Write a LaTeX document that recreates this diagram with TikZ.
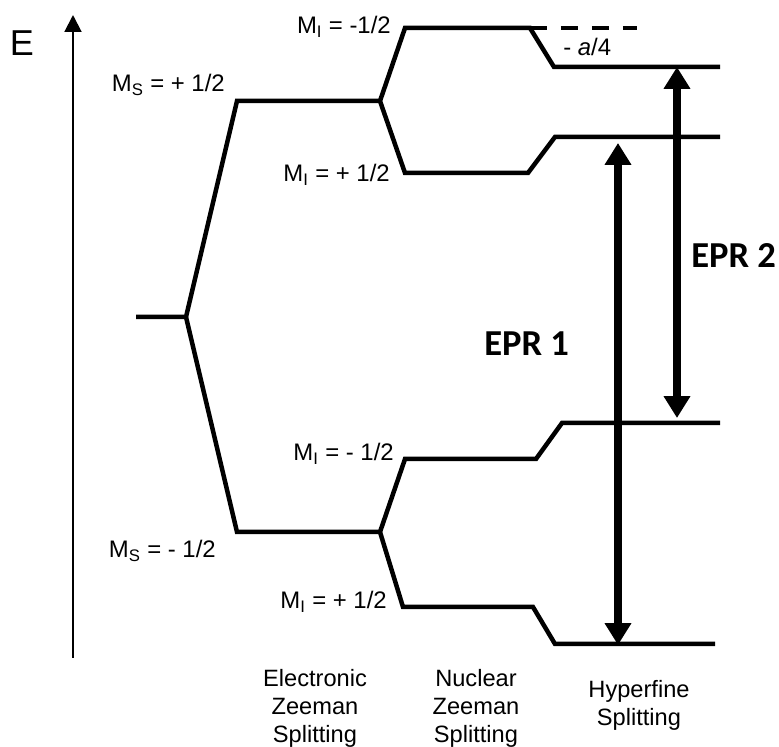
\documentclass[tikz,border=0pt]{standalone}
\usepackage{fontspec}
\setmainfont{Liberation Sans}
\newfontfamily\eprfont{Carlito}
\usetikzlibrary{
    arrows.meta,
    positioning,
    calc
}
\tikzset{
  lvl/.style    = {line width=3.2pt, line join=miter, line cap=butt},
  mlab/.style   = {anchor=base east, inner sep=0pt,
                   font=\fontsize{17}{19.9}\selectfont},
  colcap/.style = {anchor=north, inner sep=0pt, align=center,
                   font=\fontsize{16.8}{19.9}\selectfont},
  epr/.style    = {{Triangle[length=15.5pt,width=18pt]}-{Triangle[length=15.5pt,width=18pt]},
                   line width=5pt},
  eprlab/.style = {anchor=base west, inner sep=0pt,
                   font=\eprfont\bfseries\fontsize{26}{30}\selectfont}
}

\begin{document}
\begin{tikzpicture}[x=0.025cm, y=-0.025cm,
    axis/.style={-{Triangle[length=12pt,width=12pt]}, line width=1.4pt}
  ]
    \useasboundingbox (0,0) rectangle (779,747);

    % energy axis
    \coordinate (ax0) at (73,658);
    \coordinate (ax1) at (73,15);
    \draw[axis] (ax0) -- (ax1);
    \node[font=\fontsize{25.6}{30}\selectfont, inner sep=0pt] (elab) at (22,43) {E};

    % electronic Zeeman
    \coordinate (g0) at (136,317);
    \coordinate (g)  at (186,317);
    \coordinate (su) at (237,101);
    \coordinate (sU) at (380,101);
    \coordinate (sd) at (237,532);
    \coordinate (sD) at (380,532);
    \draw[lvl] (g0) -- (g) -- (su) -- (sU);
    \draw[lvl] (g) -- (sd) -- (sD);

    % nuclear Zeeman + hyperfine, upper
    \coordinate (a1) at (405,28);  \coordinate (a2) at (530,28);
    \coordinate (a3) at (554,67);  \coordinate (a4) at (720,67);
    \coordinate (a5) at (637,28);
    \coordinate (b1) at (405,173); \coordinate (b2) at (528,173);
    \coordinate (b3) at (555,137); \coordinate (b4) at (720,137);
    \draw[lvl] (sU) -- (a1) -- (a2) -- (a3) -- (a4);
    \draw[lvl] (sU) -- (b1) -- (b2) -- (b3) -- (b4);
    \draw[lvl, dash pattern=on 12pt off 10pt] (a2) -- (a5);

    % nuclear Zeeman + hyperfine, lower
    \coordinate (c1) at (405,459); \coordinate (c2) at (536,459);
    \coordinate (c3) at (562,423); \coordinate (c4) at (720,423);
    \coordinate (d1) at (403,607); \coordinate (d2) at (533,607);
    \coordinate (d3) at (555,644); \coordinate (d4) at (715,644);
    \draw[lvl] (sD) -- (c1) -- (c2) -- (c3) -- (c4);
    \draw[lvl] (sD) -- (d1) -- (d2) -- (d3) -- (d4);

    % transitions
    \coordinate (t1a) at (618,143);
    \coordinate (t1b) at (618,645);
    \coordinate (t2a) at (677,67);
    \coordinate (t2b) at (677,418);
    \draw[epr] (t1a) -- (t1b);
    \draw[epr] (t2a) -- (t2b);
    \node[eprlab] (epr1) at (484,356) {EPR 1};
    \node[eprlab] (epr2) at (691,268) {EPR 2};
    \node[anchor=base west, inner sep=0pt,
          font=\fontsize{17}{20}\selectfont] (hf) at (563,56) {- \textit{a}/4};

    % quantum numbers
    \node[mlab] (mi1) at (391,34)  {M\textsubscript{I} = -1/2};
    \node[mlab] (ms1) at (225,92)  {M\textsubscript{S} = + 1/2};
    \node[mlab] (mi2) at (390,182) {M\textsubscript{I} = + 1/2};
    \node[mlab] (mi3) at (394,461) {M\textsubscript{I} = - 1/2};
    \node[mlab] (ms2) at (216,558) {M\textsubscript{S} = - 1/2};
    \node[mlab] (mi4) at (387,609) {M\textsubscript{I} = + 1/2};

    % column captions
    \node[colcap] (cez) at (315,669) {Electronic\\Zeeman\\Splitting};
    \node[colcap] (cnz) at (476,669) {Nuclear\\Zeeman\\Splitting};
    \node[colcap] (chf) at (639,680) {Hyperfine\\Splitting};
  \end{tikzpicture}
\end{document}
